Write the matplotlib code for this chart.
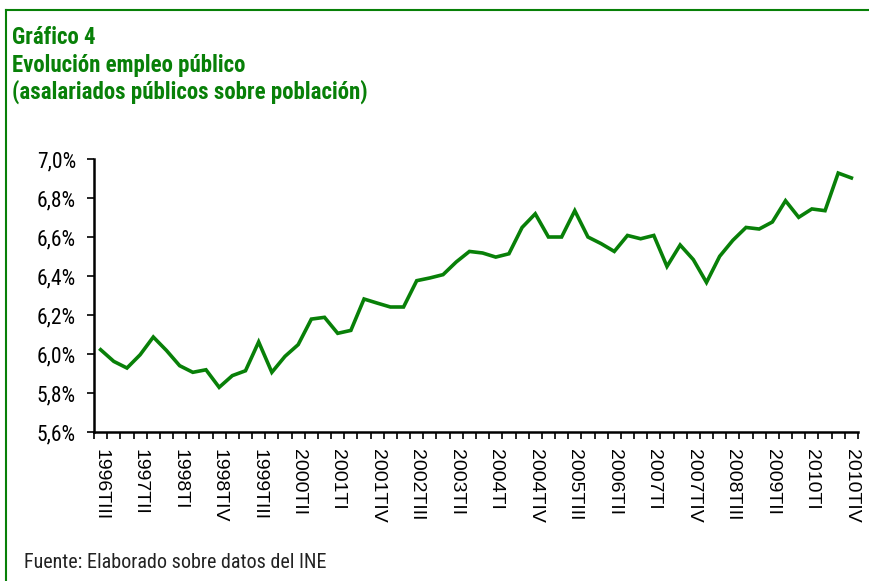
import numpy as np
import matplotlib
matplotlib.use("Agg")
import matplotlib.pyplot as plt
from matplotlib.lines import Line2D
from matplotlib.ticker import FuncFormatter

# asalariados publicos / poblacion (%), trimestral 1996TIII - 2010TIV
values = [6.022, 5.962, 5.928, 5.996, 6.087, 6.018, 5.940, 5.906, 5.919, 5.829,
          5.889, 5.914, 6.062, 5.906, 5.988, 6.048, 6.179, 6.188, 6.106, 6.121,
          6.282, 6.261, 6.241, 6.241, 6.376, 6.390, 6.407, 6.472, 6.526, 6.518,
          6.497, 6.514, 6.649, 6.719, 6.600, 6.600, 6.735, 6.600, 6.566, 6.526,
          6.608, 6.591, 6.608, 6.449, 6.559, 6.484, 6.367, 6.501, 6.583, 6.649,
          6.641, 6.677, 6.786, 6.701, 6.744, 6.735, 6.928, 6.903]

roman = ["I", "II", "III", "IV"]
quarters = []
y, q = 1996, 2
for i in range(len(values)):
    quarters.append(f"{y}T{roman[q]}")
    q += 1
    if q == 4:
        q = 0
        y += 1

green = "#088008"
cond = ["Roboto Condensed", "DejaVu Sans"]
plain = ["Liberation Sans", "DejaVu Sans"]
plt.rcParams["font.family"] = cond

fig = plt.figure(figsize=(8.69, 5.81), dpi=100)
ax = fig.add_axes([0.1082, 0.2565, 0.8791, 0.4698])

x = np.arange(len(values))
ax.plot(x, values, color=green, lw=2.6, solid_joinstyle="miter")

ax.set_xlim(-0.5, len(values) - 0.5)
ax.set_ylim(5.6, 7.0)
ax.set_yticks(np.arange(5.6, 7.01, 0.2))
ax.yaxis.set_major_formatter(FuncFormatter(lambda v, p: f"{v:.1f}%".replace(".", ",")))

ax.set_xticks(x[::3])
ax.set_xticklabels(quarters[::3], rotation=270, fontsize=14, family=plain)
ax.set_xticks(np.arange(-0.5, len(values), 1), minor=True)
ax.tick_params(axis="x", which="major", length=0, pad=12)
ax.tick_params(axis="x", which="minor", length=5, width=1.2, direction="out")
ax.tick_params(axis="y", length=5, width=1.2, labelsize=15.5, pad=8)

for s in ["top", "right"]:
    ax.spines[s].set_visible(False)
for s in ["left", "bottom"]:
    ax.spines[s].set_linewidth(1.8)

# titulo
kw = dict(color=green, fontsize=16.5, fontweight="bold", va="center")
fig.text(0.014, 0.935, "Gráfico 4", **kw)
fig.text(0.014, 0.888, "Evolución empleo público", **kw)
fig.text(0.014, 0.842, "(asalariados públicos sobre población)", **kw)
fig.text(0.028, 0.032, "Fuente: Elaborado sobre datos del INE", color="#222222", fontsize=14.5, va="center")

# marco
fig.add_artist(Line2D([0.0065, 0.0065], [0.0, 0.983], color=green, lw=1.5))
fig.add_artist(Line2D([0.0065, 1.0], [0.983, 0.983], color=green, lw=1.5))

fig.savefig("out.png", dpi=100)
